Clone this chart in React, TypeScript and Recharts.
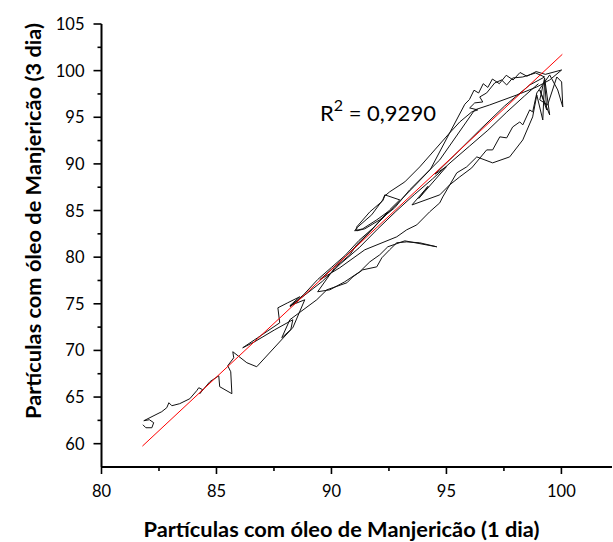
import React from 'react';
import { LineChart, Line, XAxis, YAxis } from 'recharts';

// Partículas com óleo de Manjericão: 1 dia (x) vs 3 dia (y)
const day1 = [
  81.80, 81.93, 82.19, 82.27, 82.08, 81.84, 82.62, 82.84, 82.93, 83.06,
  83.40, 83.84, 84.14, 84.23, 84.40, 84.27, 84.71, 85.10, 85.14, 85.67,
  85.62, 85.49, 85.75, 85.71, 86.32, 86.75, 88.23, 88.32, 87.53, 86.66,
  86.14, 86.79, 87.75, 87.67, 88.10, 88.62, 88.19, 88.84, 88.32, 87.84,
  88.19, 89.36, 89.80, 90.67, 90.93, 91.36, 91.97, 92.19, 92.53, 92.84,
  93.27, 93.84, 94.58, 93.19, 92.45, 92.10, 91.67, 91.23, 90.58, 89.93,
  89.40, 90.14, 90.80, 91.10, 91.67, 92.23, 92.53, 92.97, 92.32, 92.23,
  91.75, 91.10, 91.01, 91.36, 91.97, 92.45, 91.23, 90.36, 89.49, 90.36,
  91.45, 92.84, 93.27, 93.71, 94.27, 94.71, 94.84, 95.45, 95.88, 96.32,
  97.01, 97.75, 98.32, 98.75, 98.93, 99.19, 99.27, 99.36, 99.06, 99.49,
  99.27, 99.06, 99.40, 99.80, 100.01, 100.06, 99.84, 99.49, 98.93, 98.75,
  98.62, 98.32, 98.19, 97.88, 97.62, 97.32, 97.01, 96.75, 96.10, 95.58,
  95.14, 94.71, 93.50, 94.20, 93.80, 95.00, 94.50, 95.36, 96.45, 97.53,
  98.62, 99.27, 98.88, 98.32, 97.88, 97.62, 97.40, 97.10, 96.75, 96.45,
  96.58, 96.23, 96.01, 96.36, 96.10, 95.58, 95.14, 94.49, 93.84, 93.19,
  92.53, 92.32, 92.23, 91.67, 91.10, 91.10, 91.45, 92.10, 92.75, 93.40,
  94.71, 96.23, 96.88, 98.06, 98.93, 99.49, 100.01, 99.30, 98.90, 98.50,
  98.20, 97.90, 97.60, 97.30, 97.00, 96.80, 96.60, 96.40, 96.20, 96.00,
  95.80, 94.30, 93.60, 93.00, 92.40, 91.80, 91.20, 90.60, 90.00, 89.40,
  88.80, 88.20, 89.60, 90.40, 91.20, 92.00, 92.80, 93.60, 94.40, 95.20,
  96.00, 96.80, 97.60, 98.40, 99.00,
];
const day3 = [
  62.03, 61.71, 61.71, 62.25, 62.57, 62.46, 63.43, 63.86, 64.39, 64.07,
  64.29, 64.82, 65.68, 66.00, 65.79, 65.36, 66.64, 67.28, 66.11, 65.36,
  67.71, 68.36, 69.21, 69.86, 68.68, 68.25, 72.21, 73.29, 72.21, 70.93,
  70.28, 71.36, 72.96, 74.57, 75.11, 75.75, 74.79, 75.43, 72.43, 71.36,
  73.29, 75.43, 76.50, 77.25, 77.89, 78.64, 78.96, 79.93, 80.79, 81.54,
  81.64, 81.54, 81.11, 81.75, 81.11, 80.25, 79.50, 78.43, 77.36, 76.50,
  76.29, 78.86, 80.25, 81.32, 82.71, 84.21, 85.07, 86.14, 86.68, 86.14,
  84.54, 83.14, 82.82, 83.04, 84.00, 84.86, 81.54, 79.50, 77.57, 78.86,
  80.79, 82.18, 82.93, 83.46, 84.86, 85.82, 86.46, 89.04, 89.68, 90.75,
  90.11, 90.75, 92.57, 95.04, 97.39, 94.71, 99.00, 95.79, 97.93, 95.25,
  99.21, 96.86, 96.32, 99.32, 98.79, 96.11, 97.93, 99.54, 97.61, 95.57,
  95.79, 94.18, 94.50, 93.96, 92.79, 92.90, 91.50, 91.50, 89.57, 88.61,
  87.75, 86.68, 85.60, 87.60, 86.30, 89.70, 88.90, 90.96, 93.64, 96.21,
  98.46, 99.32, 99.75, 99.32, 99.21, 98.46, 99.00, 98.68, 97.61, 97.18,
  96.64, 96.54, 96.00, 95.79, 95.57, 94.50, 93.32, 91.50, 89.68, 88.07,
  87.00, 86.57, 86.04, 84.86, 83.25, 82.82, 83.04, 84.00, 85.29, 87.21,
  90.43, 95.79, 96.32, 97.39, 98.25, 99.00, 100.07, 99.60, 99.90, 99.40,
  99.80, 99.00, 99.50, 98.60, 99.10, 98.20, 98.60, 97.60, 97.90, 96.90,
  96.40, 89.40, 87.60, 86.10, 84.60, 83.10, 81.80, 80.20, 78.90, 77.60,
  76.00, 74.70, 77.40, 79.30, 81.00, 83.00, 84.90, 86.70, 88.40, 90.20,
  91.90, 93.60, 95.50, 97.30, 98.60,
];

// linear fit (red)
const fitX = [81.78, 100.04];
const fitY = [59.74, 101.75];

const xTicks = [80, 82.5, 85, 87.5, 90, 92.5, 95, 97.5, 100];
const yTicks = [60, 62.5, 65, 67.5, 70, 72.5, 75, 77.5, 80, 82.5, 85, 87.5, 90, 92.5, 95, 97.5, 100, 102.5, 105];

const points = day1.map((x, i) => ({ x, y: day3[i] }));
const fit = fitX.map((x, i) => ({ x, y: fitY[i] }));

const FONT = 'Lato, "Open Sans", sans-serif';

const YTick = (props: any) => {
  const { x, y, payload } = props;
  const major = payload.value % 5 === 0;
  return (
    <g>
      <line x1={x - (major ? 8 : 4)} x2={x} y1={y} y2={y} stroke="#000" strokeWidth={1.6} />
      {major && (
        <text x={x - 17} y={y + 6} textAnchor="end" fontSize={16.5} fontFamily={FONT} fill="#000">
          {payload.value}
        </text>
      )}
    </g>
  );
};

const XTick = (props: any) => {
  const { x, y, payload } = props;
  const major = payload.value % 5 === 0;
  return (
    <g>
      <line x1={x} x2={x} y1={y} y2={y + (major ? 7 : 4)} stroke="#000" strokeWidth={1.6} />
      {major && (
        <text x={x} y={y + 30} textAnchor="middle" fontSize={16.5} fontFamily={FONT} fill="#000">
          {payload.value}
        </text>
      )}
    </g>
  );
};

export default function App() {
  return (
    <div style={{ position: 'absolute', left: 0, top: 0, width: 613, height: 542, background: '#fff' }}>
      <LineChart width={613} height={542} margin={{ top: 24, right: 1, bottom: 0, left: 0 }}>
        <XAxis
          type="number"
          dataKey="x"
          domain={[80, 102.2]}
          allowDataOverflow
          ticks={xTicks}
          interval={0}
          height={75}
          tickSize={0}
          tickMargin={0}
          tickLine={false}
          axisLine={{ stroke: '#000', strokeWidth: 2 }}
          tick={<XTick />}
        />
        <YAxis
          type="number"
          dataKey="y"
          domain={[57.5, 105]}
          allowDataOverflow
          ticks={yTicks}
          interval={0}
          width={101.5}
          tickSize={0}
          tickMargin={0}
          tickLine={false}
          axisLine={{ stroke: '#000', strokeWidth: 2 }}
          tick={<YTick />}
        />
        <Line
          data={points}
          dataKey="y"
          type="linear"
          stroke="#111"
          strokeWidth={1}
          dot={false}
          isAnimationActive={false}
        />
        <Line
          data={fit}
          dataKey="y"
          type="linear"
          stroke="#ff0000"
          strokeWidth={1}
          dot={false}
          isAnimationActive={false}
        />
      </LineChart>
      <svg
        width={613}
        height={542}
        style={{ position: 'absolute', left: 0, top: 0, pointerEvents: 'none' }}
      >
        <text x={320} y={121} fontSize={22} fontFamily={FONT} fill="#000">
          R<tspan dy={-10} fontSize={16}>2</tspan>
          <tspan dy={10}> = 0,9290</tspan>
        </text>
        <text
          x={341.5}
          y={536.5}
          textAnchor="middle"
          fontSize={21.8}
          fontWeight="bold"
          fontFamily={FONT}
          fill="#000"
        >
          Partículas com óleo de Manjericão (1 dia)
        </text>
        <text
          transform="translate(40.5,221) rotate(-90)"
          textAnchor="middle"
          fontSize={21.8}
          fontWeight="bold"
          fontFamily={FONT}
          fill="#000"
        >
          Partículas com óleo de Manjericão (3 dia)
        </text>
      </svg>
    </div>
  );
}
